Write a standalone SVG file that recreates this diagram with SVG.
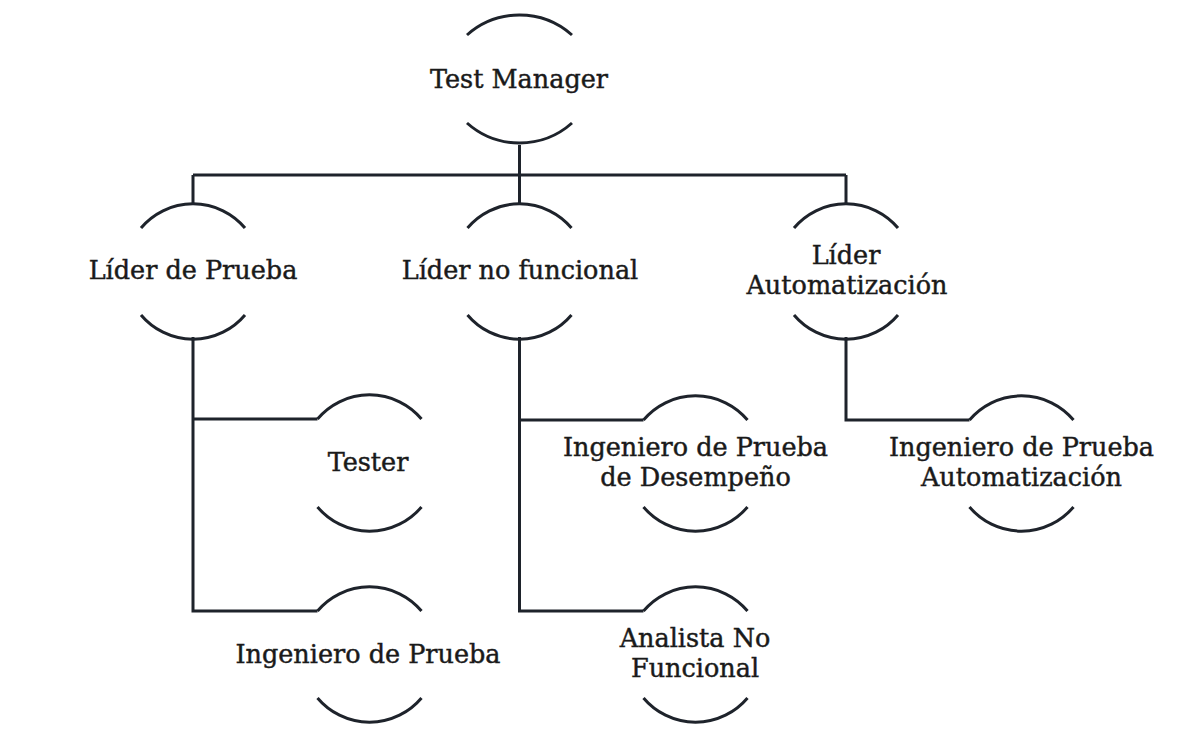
<svg xmlns="http://www.w3.org/2000/svg" width="1199" height="729" viewBox="0 0 1199 729">
<style>
.arc{fill:none;stroke:#1e232b;stroke-width:3;stroke-linecap:butt}
.con{fill:none;stroke:#1e232b;stroke-width:3;stroke-linejoin:miter}
text{font-family:"DejaVu Serif","Liberation Serif",serif;font-size:25.5px;fill:#1a1a1a;stroke:#1a1a1a;stroke-width:0.45;text-anchor:middle}
</style>
<rect width="1199" height="729" fill="#ffffff"/>
<g id="connectors">
<path class="con" d="M519.5 145 V175 M193 175 H846 M193 175 V203 M519.5 175 V203 M846 175 V203"/>
<path class="con" d="M193 337 V611 H317.5 M193 419 H317.5"/>
<path class="con" d="M519.5 337 V611 H643.5 M519.5 420 H643.5"/>
<path class="con" d="M846 337 V420 H969.5"/>
</g>
<g id="test-manager">
<path class="arc" d="M467 35 A79 79 0 0 1 572 35"/>
<path class="arc" d="M467 123 A79 79 0 0 0 572 123"/>
<text x="519" y="88">Test Manager</text>
</g>
<g id="lider-prueba">
<path class="arc" d="M141 228 A68 68 0 0 1 245 228"/>
<path class="arc" d="M141 315 A68 68 0 0 0 245 315"/>
<text x="193" y="279">Líder de Prueba</text>
</g>
<g id="lider-no-funcional">
<path class="arc" d="M467.5 228 A68 68 0 0 1 571.5 228"/>
<path class="arc" d="M467.5 315 A68 68 0 0 0 571.5 315"/>
<text x="520" y="279">Líder no funcional</text>
</g>
<g id="lider-automatizacion">
<path class="arc" d="M794 228 A68 68 0 0 1 898 228"/>
<path class="arc" d="M794 315 A68 68 0 0 0 898 315"/>
<text x="846" y="264">Líder</text>
<text x="847" y="294">Automatización</text>
</g>
<g id="tester">
<path class="arc" d="M317.5 419 A68 68 0 0 1 421.5 419"/>
<path class="arc" d="M317.5 507 A68 68 0 0 0 421.5 507"/>
<text x="368" y="471">Tester</text>
</g>
<g id="ingeniero-desempeno">
<path class="arc" d="M643.5 420 A68 68 0 0 1 747.5 420"/>
<path class="arc" d="M643.5 507 A68 68 0 0 0 747.5 507"/>
<text x="695.5" y="456">Ingeniero de Prueba</text>
<text x="695.5" y="486">de Desempeño</text>
</g>
<g id="ingeniero-automatizacion">
<path class="arc" d="M969.5 420 A68 68 0 0 1 1073.5 420"/>
<path class="arc" d="M969.5 507 A68 68 0 0 0 1073.5 507"/>
<text x="1021.5" y="456">Ingeniero de Prueba</text>
<text x="1021.5" y="486">Automatización</text>
</g>
<g id="ingeniero-prueba">
<path class="arc" d="M317.5 611 A68 68 0 0 1 421.5 611"/>
<path class="arc" d="M317.5 698 A68 68 0 0 0 421.5 698"/>
<text x="368" y="663">Ingeniero de Prueba</text>
</g>
<g id="analista-no-funcional">
<path class="arc" d="M643.5 611 A68 68 0 0 1 747.5 611"/>
<path class="arc" d="M643.5 698 A68 68 0 0 0 747.5 698"/>
<text x="695" y="647">Analista No</text>
<text x="695" y="677">Funcional</text>
</g>
</svg>
